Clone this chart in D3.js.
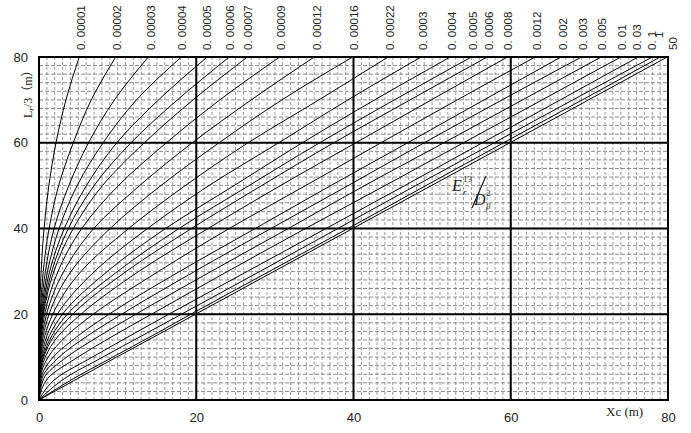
<!DOCTYPE html>
<html><head><meta charset="utf-8">
<script src="https://cdn.jsdelivr.net/npm/d3@7"></script>
<style>body{margin:0;background:#fff}</style>
</head><body>
<svg id="c" width="691" height="433"></svg>
<script>
// ---- data ----
const xTicks = [0, 20, 40, 60, 80];
const yTicks = [0, 20, 40, 60, 80];
// y values (Lr/3, m) at which each curve's x (Xc, m) was read
const yLevels = [0, 5, 10, 15, 20, 30, 40, 50, 60, 70, 80];
const paramLabels = ["0. 00001","0. 00002","0. 00003","0. 00004","0. 00005","0. 00006","0. 00007",
  "0. 00009","0. 00012","0. 00016","0. 00022","0. 0003","0. 0004","0. 0005","0. 0006","0. 0008",
  "0. 0012","0. 002","0. 003","0. 005","0. 01","0. 03","0. 1","1","50"];
// x position (data units) of each label along the top
const labelX = [5.34, 9.92, 14.25, 18.19, 21.37, 24.29, 26.58, 30.78, 35.36, 40.06, 44.64, 48.84,
  52.53, 55.2, 57.23, 59.65, 63.34, 66.64, 69.19, 71.6, 74.15, 76.06, 77.97, 78.9, 80.65];
const curveX = [
  [0,0.00,0.01,0.03,0.08,0.27,0.64,1.25,2.16,3.43,5.12],
  [0,0.00,0.02,0.07,0.16,0.54,1.28,2.50,4.36,6.65,9.76],
  [0,0.00,0.03,0.10,0.24,0.81,1.92,3.79,6.30,9.60,13.9],
  [0,0.01,0.04,0.14,0.32,1.08,2.56,4.85,8.16,12.4,18.1],
  [0,0.01,0.05,0.17,0.40,1.35,3.22,6.03,9.90,15.2,21.4],
  [0,0.01,0.06,0.20,0.48,1.62,3.73,7.00,11.7,17.6,24.2],
  [0,0.01,0.07,0.24,0.56,1.89,4.36,8.07,13.4,19.6,26.5],
  [0,0.01,0.09,0.30,0.72,2.42,5.44,10.1,16.2,23.0,30.6],
  [0,0.02,0.12,0.40,0.96,3.15,6.96,12.8,19.5,27.0,35.0],
  [0,0.02,0.16,0.54,1.28,4.08,9.04,15.5,22.9,30.9,39.9],
  [0,0.03,0.22,0.74,1.75,5.35,11.4,18.6,26.6,35.6,44.4],
  [0,0.04,0.30,1.01,2.33,7.07,13.8,21.6,30.5,39.3,48.6],
  [0,0.05,0.40,1.32,2.98,8.70,16.1,24.8,33.5,42.7,52.3],
  [0,0.06,0.50,1.64,3.60,10.0,17.8,26.7,35.7,45.2,55.0],
  [0,0.08,0.60,1.93,4.28,11.1,19.4,28.3,37.5,47.2,57.0],
  [0,0.10,0.80,2.48,5.33,12.7,21.5,30.7,40.3,49.9,59.6],
  [0,0.15,1.16,3.53,6.90,15.2,24.2,33.9,43.5,53.2,63.1],
  [0,0.25,1.80,5.00,8.90,17.9,27.5,37.1,46.9,56.6,66.4],
  [0,0.38,2.55,6.19,10.5,19.8,29.5,39.3,49.0,58.9,69.0],
  [0,0.60,3.53,7.73,12.3,21.9,31.7,41.4,51.5,61.5,71.5],
  [0,1.10,4.95,9.48,14.3,24.0,33.9,44.0,54.0,64.0,74.0],
  [0,2.16,6.78,11.6,16.5,26.5,36.5,46.5,56.4,66.3,76.2],
  [0,3.24,8.10,13.1,18.1,28.1,38.0,47.9,57.9,67.9,78.0],
  [0,4.40,9.38,14.4,19.3,29.3,39.3,49.2,59.1,69.1,79.0],
  [0,4.90,9.87,14.9,19.9,29.9,39.9,49.9,59.9,69.9,79.9]
];

// ---- drawing ----
const svg = d3.select("#c");
const L = 39, R = 668, T = 57, B = 400;
const x = d3.scaleLinear().domain([0, 80]).range([L, R]);
const y = d3.scaleLinear().domain([0, 80]).range([B, T]);

svg.append("defs").append("clipPath").attr("id", "clip")
  .append("rect").attr("x", L).attr("y", T).attr("width", R - L).attr("height", B - T);

const grid = svg.append("g");
// minor grid: every 1 in x, every 2 in y
grid.selectAll("line.vx").data(d3.range(1, 80)).join("line")
  .attr("x1", d => x(d)).attr("x2", d => x(d)).attr("y1", T).attr("y2", B)
  .attr("stroke", "#9a9a9a").attr("stroke-width", 1).attr("stroke-dasharray", "3,2");
grid.selectAll("line.hy").data(d3.range(2, 80, 2)).join("line")
  .attr("y1", d => y(d)).attr("y2", d => y(d)).attr("x1", L).attr("x2", R)
  .attr("stroke", "#8a8a8a").attr("stroke-width", 1).attr("stroke-dasharray", "4,2");
// major grid
grid.selectAll("line.mx").data(xTicks.slice(1, -1)).join("line")
  .attr("x1", d => x(d)).attr("x2", d => x(d)).attr("y1", T).attr("y2", B)
  .attr("stroke", "#000").attr("stroke-width", 2);
grid.selectAll("line.my").data(yTicks.slice(1, -1)).join("line")
  .attr("y1", d => y(d)).attr("y2", d => y(d)).attr("x1", L).attr("x2", R)
  .attr("stroke", "#000").attr("stroke-width", 2);

// curves
const line = d3.line().x(d => x(d[0])).y(d => y(d[1])).curve(d3.curveMonotoneY);
svg.append("g").attr("clip-path", "url(#clip)")
  .selectAll("path").data(curveX).join("path")
  .attr("d", xs => line(xs.map((v, i) => [v, yLevels[i]])))
  .attr("fill", "none").attr("stroke", "#000").attr("stroke-width", 1);

// frame
svg.append("rect").attr("x", L).attr("y", T).attr("width", R - L).attr("height", B - T)
  .attr("fill", "none").attr("stroke", "#000").attr("stroke-width", 2);

// axes (labels only)
const font = "'Liberation Sans', Arial, sans-serif";
const xa = svg.append("g").attr("transform", `translate(0,${B})`)
  .call(d3.axisBottom(x).tickValues(xTicks).tickSize(0).tickPadding(13).tickFormat(d3.format("d")));
const ya = svg.append("g").attr("transform", `translate(${L},0)`)
  .call(d3.axisLeft(y).tickValues(yTicks).tickSize(0).tickPadding(11).tickFormat(d3.format("d")));
[xa, ya].forEach(a => {
  a.select(".domain").remove();
  a.selectAll("text").attr("font-family", font).attr("font-size", 13).attr("fill", "#222");
});

// top parameter labels
svg.append("g").selectAll("text").data(paramLabels).join("text")
  .attr("transform", (d, i) => {
    const yy = d === "1" ? 38 : 50;
    return `translate(${x(labelX[i])},${yy}) rotate(-90)`;
  })
  .attr("dominant-baseline", "central")
  .attr("font-family", font).attr("font-size", 11.5).attr("fill", "#222")
  .text(d => d);

// axis titles
const serif = "'Liberation Serif', 'Noto Sans CJK SC', serif";
const yt = svg.append("text").attr("transform", "translate(28,118) rotate(-90)")
  .attr("font-family", serif).attr("font-size", 12).attr("fill", "#222")
  .attr("dominant-baseline", "central");
yt.append("tspan").text("L");
yt.append("tspan").attr("font-size", 9).attr("font-style", "italic").attr("dy", 3).text("r");
yt.append("tspan").attr("dy", -3).text("/3（m）");

svg.append("text").attr("x", 606).attr("y", 416)
  .attr("font-family", serif).attr("font-size", 13).attr("fill", "#222").text("Xc (m)");

// annotation E_r^13 / D_beta^2
const ann = svg.append("g").attr("font-family", serif).attr("fill", "#222");
ann.append("text").attr("x", 452).attr("y", 191).attr("font-size", 16).attr("font-style", "italic").text("E");
ann.append("text").attr("x", 463).attr("y", 182).attr("font-size", 9).text("13");
ann.append("text").attr("x", 463).attr("y", 195).attr("font-size", 9).attr("font-style", "italic").text("r");
ann.append("line").attr("x1", 486).attr("y1", 176).attr("x2", 472).attr("y2", 208)
  .attr("stroke", "#222").attr("stroke-width", 1.2);
ann.append("text").attr("x", 474).attr("y", 205).attr("font-size", 16).attr("font-style", "italic").text("D");
ann.append("text").attr("x", 486).attr("y", 196).attr("font-size", 9).text("2");
ann.append("text").attr("x", 486).attr("y", 209).attr("font-size", 9).attr("font-style", "italic").text("β");
</script>
</body></html>
